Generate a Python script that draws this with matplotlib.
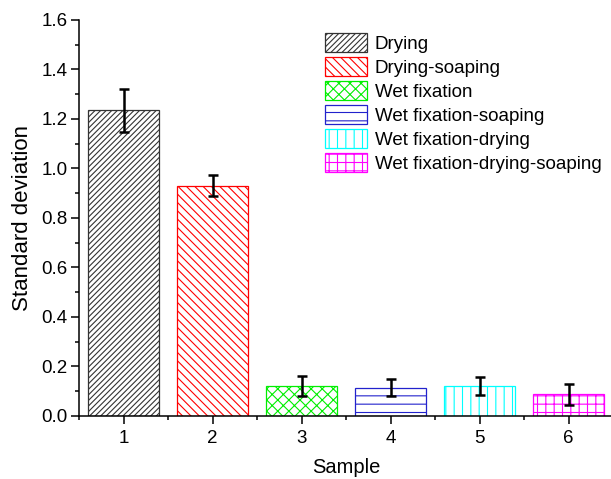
import matplotlib
matplotlib.use("Agg")
import matplotlib.pyplot as plt
from matplotlib.ticker import MultipleLocator

plt.rcParams['font.family'] = ['Liberation Sans', 'DejaVu Sans']
plt.rcParams['hatch.linewidth'] = 0.8

####### Data
samples = [1, 2, 3, 4, 5, 6]
labels = ['Drying', 'Drying-soaping', 'Wet fixation', 'Wet fixation-soaping',
          'Wet fixation-drying', 'Wet fixation-drying-soaping']
std_dev = [1.235, 0.930, 0.120, 0.114, 0.120, 0.086]
errors = [0.088, 0.043, 0.042, 0.036, 0.036, 0.042]
colors = ['#333333', 'red', '#00ee00', '#2222cc', 'cyan', 'magenta']
hatches = ['/' * 6, '\\' * 4, 'xxx', '--', '||', '++']

fig = plt.figure(figsize=(6.11, 4.79), dpi=100)
ax = fig.add_axes([79/611, 1 - 415.7/479, 534/611, 395.7/479])

for i in range(len(samples)):
    ax.bar(samples[i], std_dev[i], width=0.8, color='white', edgecolor=colors[i],
           hatch=hatches[i], linewidth=0.9, label=labels[i], zorder=2)
    ax.errorbar(samples[i], std_dev[i], yerr=errors[i], fmt='none', ecolor='black',
                elinewidth=1.8, capsize=3.5, capthick=1.8, zorder=3)

ax.set_xlim(0.5, 6.5)
ax.set_ylim(0, 1.6)
ax.xaxis.set_major_locator(MultipleLocator(1))
ax.xaxis.set_minor_locator(MultipleLocator(0.5))
ax.yaxis.set_major_locator(MultipleLocator(0.2))
ax.yaxis.set_minor_locator(MultipleLocator(0.1))
ax.yaxis.set_major_formatter(plt.FormatStrFormatter('%.1f'))

for s in ['top', 'right']:
    ax.spines[s].set_visible(False)
for s in ['left', 'bottom']:
    ax.spines[s].set_linewidth(1.1)

ax.tick_params(which='major', direction='out', length=5.8, width=1.1, labelsize=13.5)
ax.tick_params(which='minor', direction='out', length=3, width=1.1)
ax.tick_params(axis='y', which='major', pad=2.5)
ax.tick_params(axis='x', which='major', pad=4.5)

ax.set_xlabel('Sample', fontsize=14.5, labelpad=8)
ax.set_ylabel('Standard deviation', fontsize=16, labelpad=6)

ax.legend(loc='upper left', bbox_to_anchor=(0.461, 0.968), frameon=False,
          fontsize=13.5, handlelength=2.24, handleheight=1.25, labelspacing=0.2,
          handletextpad=0.4, borderpad=0, borderaxespad=0)

fig.savefig('out.png', dpi=100)
